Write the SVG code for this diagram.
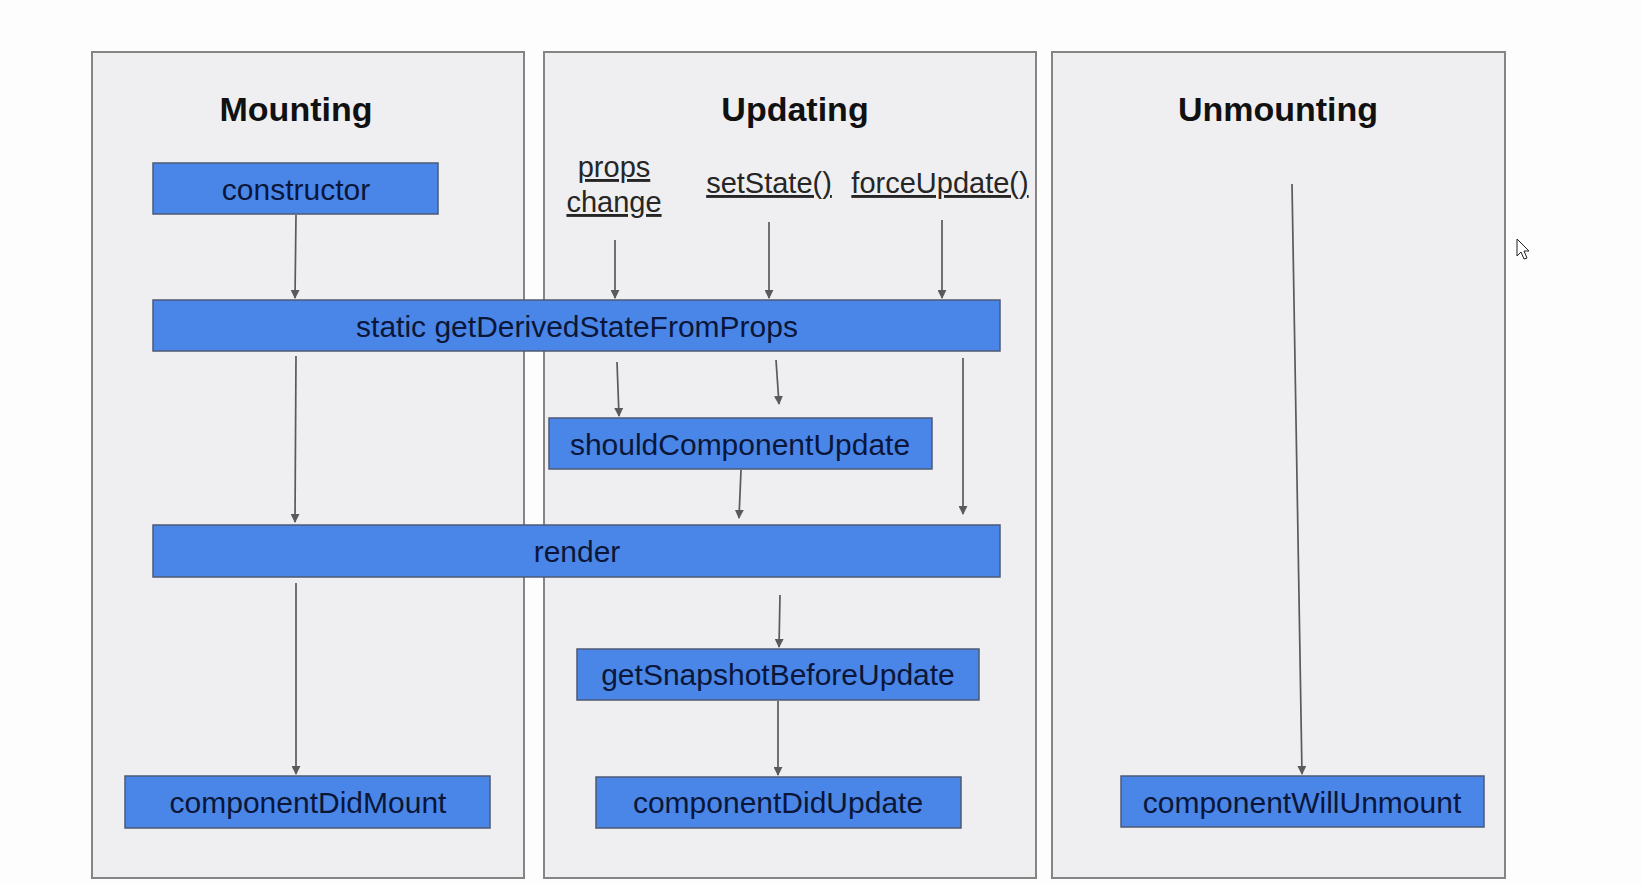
<svg xmlns="http://www.w3.org/2000/svg" width="1642" height="885" viewBox="0 0 1642 885">
  <style>
    .panel { fill: #efeff1; stroke: #858585; stroke-width: 2; }
    .title { font-family: "Liberation Sans", Arial, sans-serif; font-weight: bold; font-size: 34px; fill: #111; text-anchor: middle; }
    .box { fill: #4a86e8; stroke: #4d5a75; stroke-width: 1.5; }
    .label { font-family: "Liberation Sans", Arial, sans-serif; font-size: 30px; fill: #0b1638; text-anchor: middle; }
    .trigger { font-family: "Liberation Sans", Arial, sans-serif; font-size: 29px; fill: #262626; text-anchor: middle; text-decoration: underline; }
    .edge { fill: none; stroke: #5a5a5a; stroke-width: 1.7; marker-end: url(#arrow); }
  </style>
  <defs>
    <marker id="arrow" viewBox="0 0 10 10" refX="9" refY="5" markerWidth="9" markerHeight="9" markerUnits="userSpaceOnUse" orient="auto">
      <path d="M0,0 L10,5 L0,10 Z" fill="#5a5a5a"/>
    </marker>
  </defs>

  <rect width="1642" height="885" fill="#fdfdfd"/>

  <!-- lifecycle phases -->
  <g id="phase-mounting">
    <rect class="panel" x="92" y="52" width="432" height="826"/>
    <text class="title" x="296" y="121">Mounting</text>
  </g>
  <g id="phase-updating">
    <rect class="panel" x="544" y="52" width="492" height="826"/>
    <text class="title" x="795" y="121">Updating</text>
    <text class="trigger" x="614" y="177">props</text>
    <text class="trigger" x="614" y="212">change</text>
    <text class="trigger" x="769" y="193">setState()</text>
    <text class="trigger" x="940" y="193">forceUpdate()</text>
  </g>
  <g id="phase-unmounting">
    <rect class="panel" x="1052" y="52" width="453" height="826"/>
    <text class="title" x="1278" y="121">Unmounting</text>
  </g>

  <!-- lifecycle methods -->
  <g id="constructor">
    <rect class="box" x="153" y="163" width="285" height="51"/>
    <text class="label" x="296" y="200">constructor</text>
  </g>
  <g id="getDerivedStateFromProps">
    <rect class="box" x="153" y="300" width="847" height="51"/>
    <text class="label" x="577" y="337">static getDerivedStateFromProps</text>
  </g>
  <g id="shouldComponentUpdate">
    <rect class="box" x="549" y="418" width="383" height="51"/>
    <text class="label" x="740" y="455">shouldComponentUpdate</text>
  </g>
  <g id="render">
    <rect class="box" x="153" y="525" width="847" height="52"/>
    <text class="label" x="577" y="562">render</text>
  </g>
  <g id="getSnapshotBeforeUpdate">
    <rect class="box" x="577" y="649" width="402" height="51"/>
    <text class="label" x="778" y="685">getSnapshotBeforeUpdate</text>
  </g>
  <g id="componentDidMount">
    <rect class="box" x="125" y="776" width="365" height="52"/>
    <text class="label" x="308" y="813">componentDidMount</text>
  </g>
  <g id="componentDidUpdate">
    <rect class="box" x="596" y="777" width="365" height="51"/>
    <text class="label" x="778" y="813">componentDidUpdate</text>
  </g>
  <g id="componentWillUnmount">
    <rect class="box" x="1121" y="776" width="363" height="51"/>
    <text class="label" x="1302" y="813">componentWillUnmount</text>
  </g>

  <!-- flow arrows -->
  <g id="connectors">
    <line class="edge" x1="296" y1="215" x2="295" y2="298"/>
    <line class="edge" x1="296" y1="356" x2="295" y2="522"/>
    <line class="edge" x1="296" y1="583" x2="296" y2="774"/>

    <line class="edge" x1="615" y1="240" x2="615" y2="298"/>
    <line class="edge" x1="769" y1="222" x2="769" y2="298"/>
    <line class="edge" x1="942" y1="220" x2="942" y2="298"/>

    <line class="edge" x1="617" y1="362" x2="619" y2="416"/>
    <line class="edge" x1="776" y1="360" x2="779" y2="404"/>
    <line class="edge" x1="963" y1="358" x2="963" y2="514"/>
    <line class="edge" x1="741" y1="470" x2="739" y2="518"/>

    <line class="edge" x1="780" y1="595" x2="779" y2="647"/>
    <line class="edge" x1="778" y1="701" x2="778" y2="775"/>

    <line class="edge" x1="1292" y1="184" x2="1302" y2="774"/>
  </g>

  <!-- pointer -->
  <path d="M1517,239 L1517,256 L1521,252 L1524,259 L1527,258 L1524,251 L1529,251 Z" fill="#fff" stroke="#222" stroke-width="1"/>
</svg>
